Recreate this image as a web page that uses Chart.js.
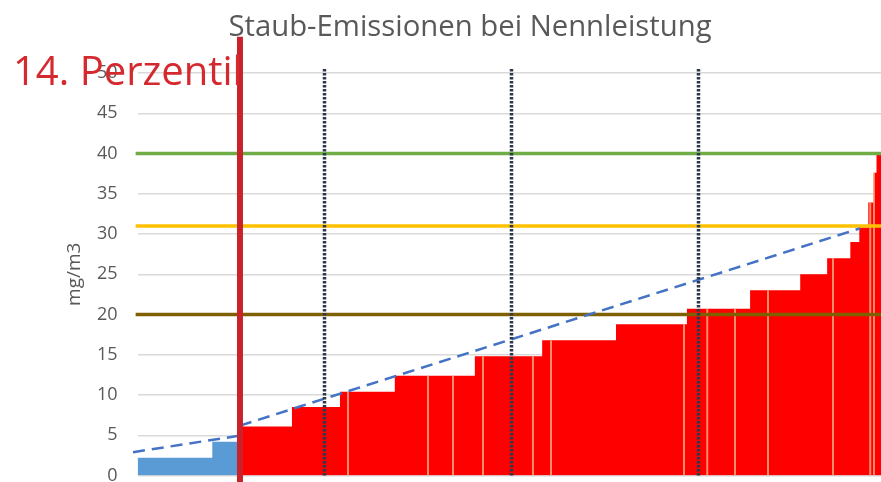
<!DOCTYPE html>
<html><head><meta charset="utf-8">
<script src="https://cdn.jsdelivr.net/npm/chart.js@4.4.1/dist/chart.umd.min.js"></script>
<style>html,body{margin:0;padding:0;background:#fff;}canvas{display:block;}</style>
</head><body>
<canvas id="c" width="881" height="482"></canvas>
<script>
const stepStart = [0, 10.0, 13.7, 20.65, 27.07, 34.4, 45.1, 54.1, 63.97, 73.45, 81.9, 88.6, 92.2, 95.3, 96.5, 97.7, 98.4, 98.8];
const stepValue = [2.2, 4.2, 6.1, 8.5, 10.4, 12.4, 14.8, 16.8, 18.8, 20.7, 23.0, 25.0, 27.0, 29.0, 30.8, 33.9, 37.6, 39.9];
const xEnd = 99.4;
const perzentil14 = 13.7;
const quartiles = [25, 50, 75];
const limitValues = [40, 31, 20];
const limitColors = ['#70AD47', '#FFC000', '#7F6000'];
// dashed trend: two pieces, one below and one above the 14th percentile
const trendX = [-0.6, 13.7, 13.7, 13.7, 96.6];
const trendY = [2.9, 4.95, null, 6.2, 30.7];
const seamX = [28.14, 38.84, 42.18, 46.19, 52.87, 55.28, 73.06, 76.17, 79.88, 84.29, 92.98, 97.96, 98.46];
const seamTop = [10.4, 12.4, 12.4, 14.8, 14.8, 16.8, 18.8, 20.7, 20.7, 23.0, 27.0, 33.9, 37.6];
const titleText = 'Staub-Emissionen bei Nennleistung';
const perzentilText = '14. Perzentil';
const yLabel = 'mg/m3';

// ---- build datasets ----
const bluePts = [], redPts = [];
stepStart.forEach((s, i) => {
  if (s < perzentil14) bluePts.push({x: s, y: stepValue[i]});
  else redPts.push({x: s, y: stepValue[i]});
});
bluePts.push({x: perzentil14, y: bluePts[bluePts.length - 1].y});
redPts.push({x: xEnd, y: stepValue[stepValue.length - 1]});

const seamPts = [];
seamX.forEach((s, i) => { seamPts.push({x: s, y: 0}, {x: s, y: seamTop[i]}, {x: s, y: null}); });

const base = {pointRadius: 0, pointHoverRadius: 0, tension: 0};
const datasets = [];
datasets.push(Object.assign({}, base, {data: bluePts, stepped: 'before', fill: 'origin', backgroundColor: '#5B9BD5', borderWidth: 0, order: 9}));
datasets.push(Object.assign({}, base, {data: redPts, stepped: 'before', fill: 'origin', backgroundColor: '#FF0000', borderWidth: 0, order: 8}));
datasets.push(Object.assign({}, base, {data: seamPts, borderColor: 'rgba(255,175,135,0.8)', borderWidth: 2, fill: false, spanGaps: false, order: 7}));
limitValues.forEach((v, i) => {
  datasets.push(Object.assign({}, base, {data: [{x: -0.25, y: v}, {x: xEnd, y: v}], borderColor: limitColors[i], borderWidth: 3.5, fill: false, clip: false, order: 6}));
});
datasets.push(Object.assign({}, base, {data: trendX.map((x, i) => ({x, y: trendY[i]})), borderColor: '#4472C4', borderWidth: 2.5, borderDash: [12, 7], fill: false, spanGaps: false, clip: false, order: 4}));
quartiles.forEach(q => {
  datasets.push(Object.assign({}, base, {data: [{x: q, y: 0}, {x: q, y: 50.6}], borderColor: '#2E3A4C', borderWidth: 3.5, borderDash: [2.5, 1.5], fill: false, clip: false, order: 3}));
});
datasets.push(Object.assign({}, base, {data: [{x: perzentil14, y: -0.9}, {x: perzentil14, y: 54.5}], borderColor: '#C8232B', borderWidth: 6, fill: false, clip: false, order: 1}));

const textPlugin = {
  id: 'perzentilText',
  afterDraw(chart) {
    const ctx = chart.ctx;
    ctx.save();
    ctx.font = '40px "Open Sans"';
    ctx.fillStyle = '#D42A2F';
    ctx.textBaseline = 'alphabetic';
    ctx.textAlign = 'left';
    ctx.fillText(perzentilText, 13, 85);
    ctx.restore();
  }
};

new Chart(document.getElementById('c'), {
  type: 'line',
  data: {datasets},
  plugins: [textPlugin],
  options: {
    responsive: false,
    animation: false,
    events: [],
    layout: {autoPadding: false, padding: {left: 59, right: 0, top: 0, bottom: 6.5}},
    plugins: {
      legend: {display: false},
      tooltip: {enabled: false},
      title: {display: true, text: titleText, color: '#595959',
              font: {family: '"Open Sans"', size: 29.3, weight: 'normal', lineHeight: 1.2},
              padding: {top: 10, bottom: 27.84}}
    },
    scales: {
      x: {type: 'linear', display: false, min: 0, max: xEnd},
      y: {
        min: 0, max: 50,
        afterFit(scale) { scale.width = 137.5 - 59; scale.paddingTop = 0; scale.paddingBottom = 0; },
        border: {display: false},
        grid: {color: '#D9D9D9', lineWidth: 1.5, drawTicks: false},
        ticks: {stepSize: 5, padding: 20, color: '#595959', font: {family: '"Open Sans"', size: 18}},
        title: {display: true, text: yLabel, color: '#595959', font: {family: '"Open Sans"', size: 19, lineHeight: 1.2}, padding: {top: 4.6, bottom: 0}}
      }
    }
  }
});
</script>
</body></html>
